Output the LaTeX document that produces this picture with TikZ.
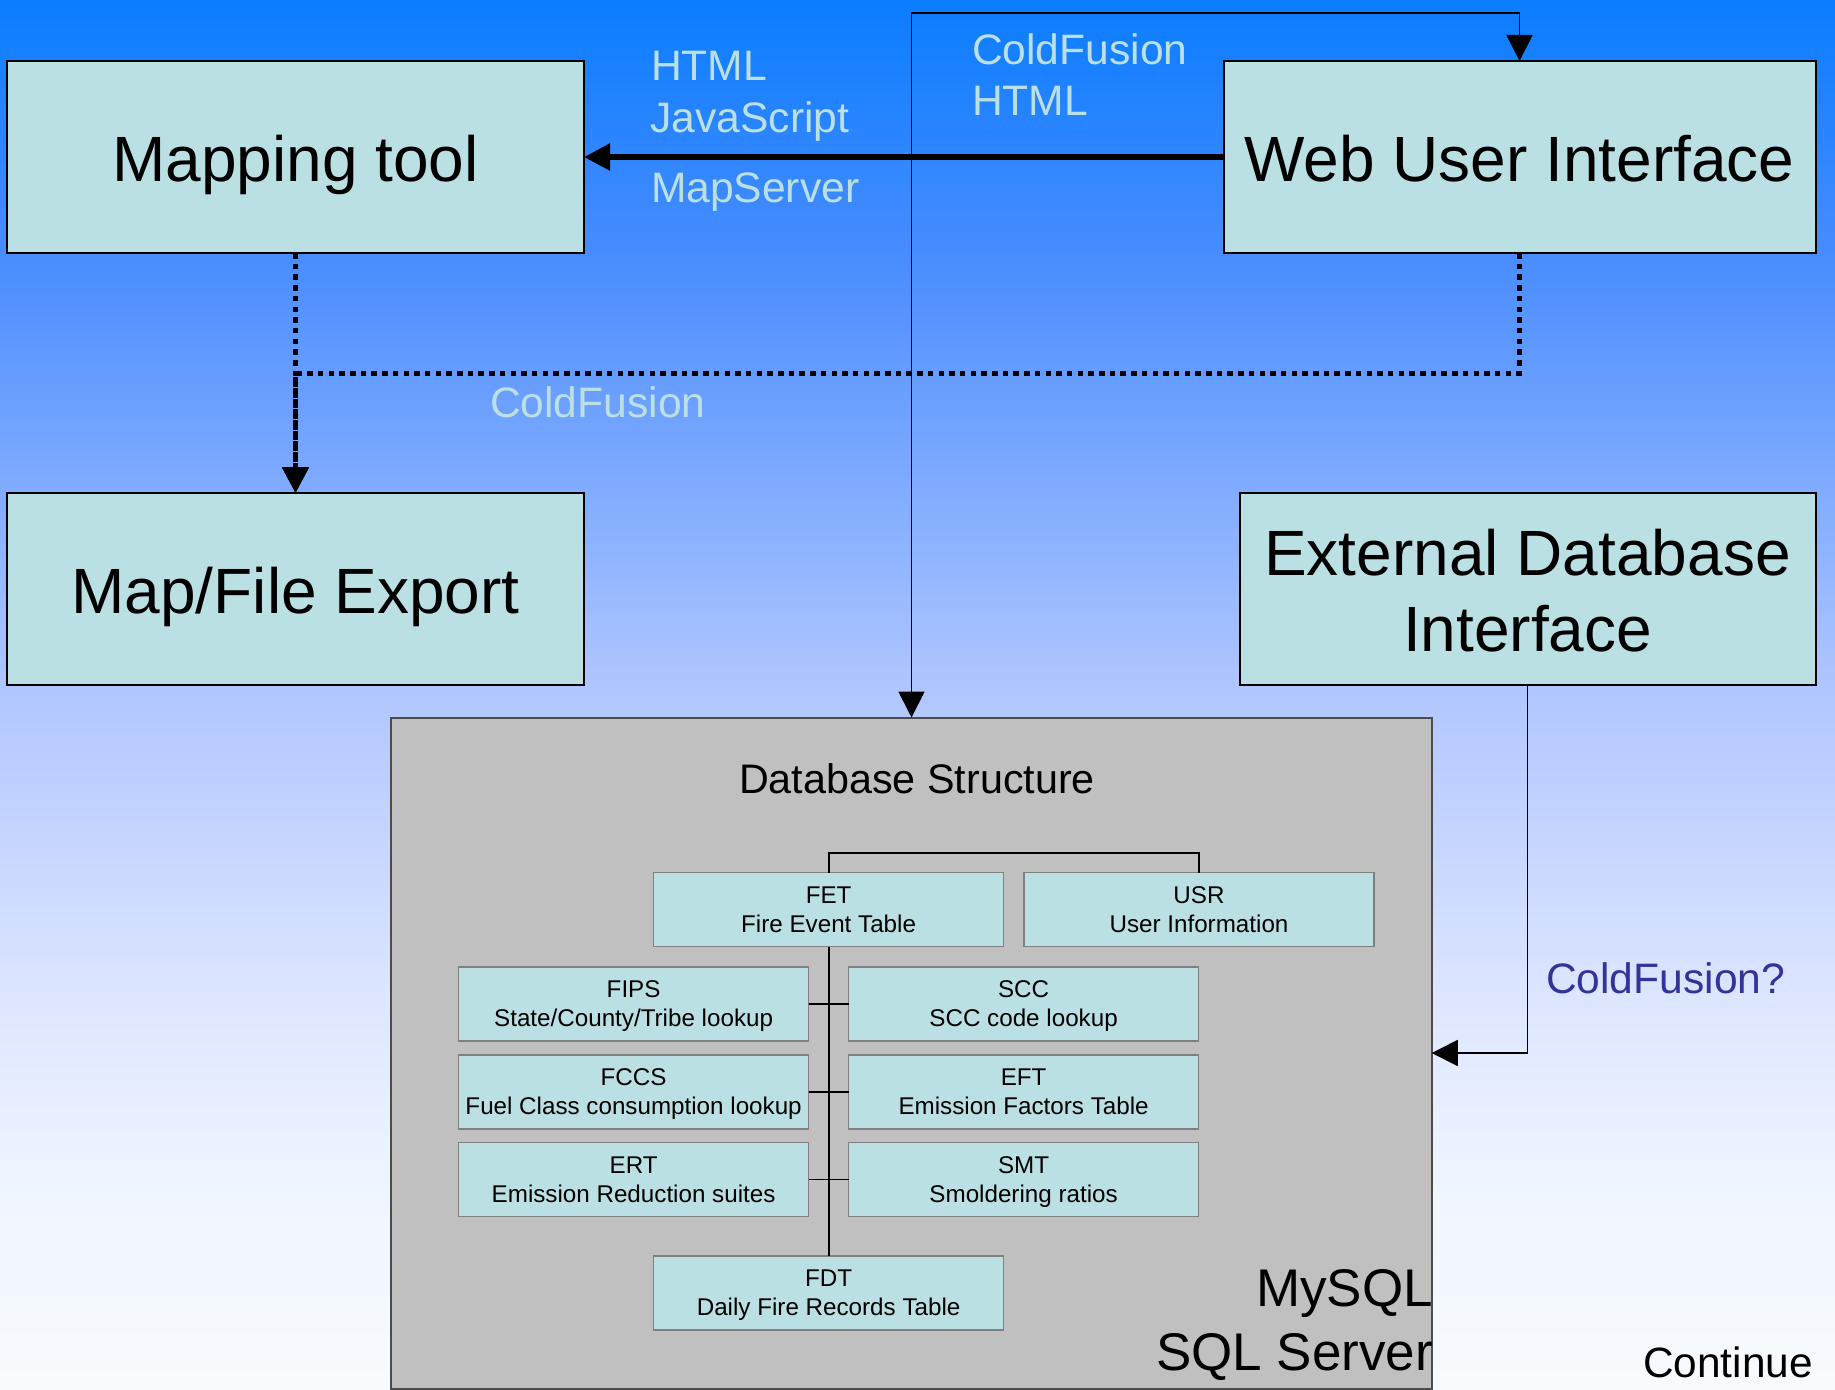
\documentclass[tikz,border=0pt]{standalone}
\usepackage{fontspec}
\setmainfont{Liberation Sans}
\usetikzlibrary{arrows.meta}
\definecolor{cellfill}{HTML}{BBE0E3}
\definecolor{dbfill}{HTML}{C0C0C0}
\definecolor{q}{HTML}{333399}
\definecolor{bga}{RGB}{10,125,255}
\definecolor{bgb}{RGB}{72,140,255}
\definecolor{bgc}{RGB}{176,198,255}
\definecolor{bgd}{RGB}{222,230,255}
\definecolor{bge}{RGB}{240,246,255}
\definecolor{bgf}{RGB}{247,251,254}
\pgfdeclareverticalshading{bgshade}{100bp}{color(0bp)=(bgf); color(25bp)=(bgf); color(31.8bp)=(bge); color(39bp)=(bgd); color(50.2bp)=(bgc); color(65.9bp)=(bgb); color(75bp)=(bga); color(100bp)=(bga)}
\newcommand{\twolines}[2]{\rule{0pt}{23pt}#1\\#2\rule[-7pt]{0pt}{7pt}}
\tikzset{
  bigbox/.style={draw=black,line width=2pt,fill=cellfill,inner sep=0pt,outer sep=0pt,align=center,
    font=\fontsize{64}{76}\selectfont},
  cell/.style={draw=black!50,line width=1.6pt,fill=cellfill,inner sep=0pt,outer sep=0pt,align=center,
    minimum width=350pt,minimum height=74pt,font=\fontsize{24.2}{29}\selectfont},
  lbl/.style={anchor=base west,inner sep=0pt,outer sep=0pt,text=cellfill,font=\fontsize{42.6}{50}\selectfont},
  dark/.style={anchor=base west,inner sep=0pt,outer sep=0pt,font=\fontsize{53}{60}\selectfont},
  thinline/.style={line width=1.8pt,draw=black},
  tip/.style={-{Triangle[length=26pt,width=26pt]}},
  dots/.style={line width=5pt,dash pattern=on 5.5pt off 5.2pt},
}
\begin{document}
\begin{tikzpicture}[x=1pt,y=-1pt]
\useasboundingbox (0,0) rectangle (1835,1389);
\shade[shading=bgshade] (0,0) rectangle (1835,1389);

\node[bigbox,minimum width=577pt,minimum height=192pt,text height=62pt,text depth=14pt] (map) at (295.5,157) {Mapping tool};
\node[bigbox,minimum width=592pt,minimum height=192pt,text height=62pt,text depth=14pt] (web) at (1519.5,157) {Web User Interface};
\node[bigbox,minimum width=577pt,minimum height=192pt,text height=62pt,text depth=14pt] (export) at (295.5,589) {Map/File Export};
\node[bigbox,minimum width=576pt,minimum height=192pt] (ext) at (1527.5,589) {\rule{0pt}{49.7pt}External Database\\Interface};
\node[draw=black!70,line width=2pt,fill=dbfill,inner sep=0pt,outer sep=0pt,minimum width=1040.5pt,minimum height=671pt] (db) at (911.5,1053) {};

\coordinate (topc) at (1519.5,13);
\coordinate (dotc) at (295.5,373);

\draw[line width=5.5pt,tip] (web.west) -- (map.east);
\draw[thinline,{Triangle[length=26pt,width=26pt]}-{Triangle[length=26pt,width=26pt]}] (db.north) |- (topc) -- (web.north);
\draw[dots,tip] (map.south) -- (export.north);
\draw[dots,tip] (web.south) |- (dotc) -- (export.north);
\draw[thinline,tip] (ext.south) |- (db.east);

\node[lbl] (t1) at (651,81) {HTML};
\node[lbl] (t2) at (650.5,132) {JavaScript};
\node[lbl] (t3) at (651,202) {MapServer};
\node[lbl] (t4) at (972,65) {ColdFusion};
\node[lbl] (t5) at (972,115) {HTML};
\node[lbl] (t6) at (490,417) {ColdFusion};
\node[lbl,text=q] (t7) at (1546,993) {ColdFusion?};
\node[anchor=base west,inner sep=0pt,font=\fontsize{42.4}{50}\selectfont] (cont) at (1643,1377) {Continue};
\node[anchor=base,inner sep=0pt,font=\fontsize{41.3}{48}\selectfont] (dbt) at (917,793) {Database Structure};
\node[dark] (my) at (1256,1306) {MySQL};
\node[dark] (ss) at (1156,1370) {SQL Server};

\node[cell] (fet) at (828.6,909.6) {\twolines{FET}{Fire Event Table}};
\node[cell] (usr) at (1199,909.6) {\twolines{USR}{User Information}};
\node[cell] (fips) at (633.6,1004) {\twolines{FIPS}{State/County/Tribe lookup}};
\node[cell] (scc) at (1023.6,1004) {\twolines{SCC}{SCC code lookup}};
\node[cell] (fccs) at (633.6,1092) {\twolines{FCCS}{Fuel Class consumption lookup}};
\node[cell] (eft) at (1023.6,1092) {\twolines{EFT}{Emission Factors Table}};
\node[cell] (ert) at (633.6,1179.5) {\twolines{ERT}{Emission Reduction suites}};
\node[cell] (smt) at (1023.6,1179.5) {\twolines{SMT}{Smoldering ratios}};
\node[cell] (fdt) at (828.6,1292.7) {\twolines{FDT}{Daily Fire Records Table}};

\coordinate (link) at (1199,853);
\draw[thinline] (fet.north) |- (link) -- (usr.north);
\draw[thinline] (fet.south) -- (fdt.north);
\draw[thinline] (fips.east) -- (scc.west);
\draw[thinline] (fccs.east) -- (eft.west);
\draw[thinline] (ert.east) -- (smt.west);
\end{tikzpicture}
\end{document}
